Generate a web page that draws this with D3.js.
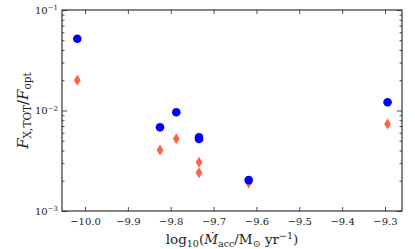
<!DOCTYPE html>
<html>
<head>
<meta charset="utf-8">
<script src="https://cdn.jsdelivr.net/npm/d3@7"></script>
<style>
  body { margin: 0; background: #fff; }
  svg text { font-family: "DejaVu Serif", "Liberation Serif", serif; fill: #222; }
</style>
</head>
<body>
<svg id="chart" width="415" height="249"></svg>
<script>
"use strict";

// log10 Mdot_acc for each source
var logMacc   = [-10.018, -9.825, -9.787, -9.734, -9.734, -9.618, -9.294];
// F_X,TOT / F_opt, blue circles
var ratioBlue = [0.0518, 0.0068, 0.0096, 0.0054, 0.0052, 0.00203, 0.0121];
// second estimate, red diamonds
var ratioRed  = [0.0200, 0.00405, 0.00524, 0.00305, 0.0024, 0.0019, 0.00734];

var xTicks = [-10.0, -9.9, -9.8, -9.7, -9.6, -9.5, -9.4, -9.3];
var yTicks = [1e-3, 1e-2, 1e-1];
var yExp   = {"0.001": "−3", "0.01": "−2", "0.1": "−1"};

var margin = {top: 10, right: 13, bottom: 38, left: 62};
var width = 415 - margin.left - margin.right,
    height = 249 - margin.top - margin.bottom;

var svg = d3.select("#chart");
var g = svg.append("g").attr("transform", "translate(" + margin.left + "," + margin.top + ")");

var x = d3.scaleLinear().domain([-10.0537, -9.2603]).range([0, width]);
var y = d3.scaleLog().domain([1e-3, 1e-1]).range([height, 0]);

// minor log ticks
var minor = [];
[1e-3, 1e-2].forEach(function(b) {
  for (var k = 2; k <= 9; k++) minor.push(b * k);
});

function styleAxis(sel) {
  sel.select(".domain").remove();
  sel.selectAll("line").attr("stroke", "#222").attr("stroke-width", 0.8);
}

// bottom
g.append("g").attr("transform", "translate(0," + height + ")")
  .call(d3.axisBottom(x).tickValues(xTicks).tickSize(-4).tickPadding(7)
    .tickFormat(function(d) { return d3.format(".1f")(d).replace("-", "−"); }))
  .call(styleAxis)
  .selectAll("text").style("font-size", "10px");
// top
g.append("g")
  .call(d3.axisTop(x).tickValues(xTicks).tickSize(-4).tickFormat(""))
  .call(styleAxis);

// left major
var yl = g.append("g")
  .call(d3.axisLeft(y).tickValues(yTicks).tickSize(-5).tickPadding(6).tickFormat(""))
  .call(styleAxis);
yl.selectAll(".tick").append("text")
  .attr("x", -4).attr("dy", "0.32em").attr("text-anchor", "end")
  .style("font-size", "10px")
  .each(function(d) {
    var t = d3.select(this);
    t.append("tspan").text("10");
    t.append("tspan").attr("dy", "-0.5em").style("font-size", "7px").text(yExp[String(d)]);
  });
g.append("g").call(d3.axisLeft(y).tickValues(minor).tickSize(-2.5).tickFormat("")).call(styleAxis);
// right
g.append("g").attr("transform", "translate(" + width + ",0)")
  .call(d3.axisRight(y).tickValues(yTicks).tickSize(-5).tickFormat("")).call(styleAxis);
g.append("g").attr("transform", "translate(" + width + ",0)")
  .call(d3.axisRight(y).tickValues(minor).tickSize(-2.5).tickFormat("")).call(styleAxis);

// frame
g.append("rect").attr("width", width).attr("height", height)
  .attr("fill", "none").attr("stroke", "#222").attr("stroke-width", 1.1);

// red diamonds
var diamond = "M0,-5.5L3.4,0L0,5.5L-3.4,0Z";
g.selectAll(".red").data(ratioRed).enter().append("path")
  .attr("class", "red")
  .attr("transform", function(d, i) { return "translate(" + x(logMacc[i]) + "," + y(d) + ")"; })
  .attr("d", diamond)
  .attr("fill", "#ff6347");

// blue circles
g.selectAll(".blue").data(ratioBlue).enter().append("circle")
  .attr("class", "blue")
  .attr("cx", function(d, i) { return x(logMacc[i]); })
  .attr("cy", function(d) { return y(d); })
  .attr("r", 4.3)
  .attr("fill", "#0000ff");

// x label
var xl = svg.append("text")
  .attr("x", margin.left + width / 2).attr("y", 244)
  .attr("text-anchor", "middle").style("font-size", "13.5px");
xl.append("tspan").text("log");
xl.append("tspan").attr("dy", "3").style("font-size", "9.5px").text("10");
xl.append("tspan").attr("dy", "-3").text("(");
xl.append("tspan").style("font-style", "italic").text("Ṁ");
xl.append("tspan").attr("dy", "3").style("font-size", "9.5px").text("acc");
xl.append("tspan").attr("dy", "-3").text("/M");
xl.append("tspan").attr("dy", "3").style("font-size", "9.5px").text("⊙");
xl.append("tspan").attr("dy", "-3").text(" yr");
xl.append("tspan").attr("dy", "-5").style("font-size", "9.5px").text("−1");
xl.append("tspan").attr("dy", "5").text(")");

// y label
var ylab = svg.append("text")
  .attr("transform", "translate(28," + (margin.top + height / 2) + ") rotate(-90)")
  .attr("text-anchor", "middle").style("font-size", "15px");
ylab.append("tspan").style("font-style", "italic").text("F");
ylab.append("tspan").attr("dy", "3").style("font-size", "10.5px").text("X,TOT");
ylab.append("tspan").attr("dy", "-3").text("/");
ylab.append("tspan").style("font-style", "italic").text("F");
ylab.append("tspan").attr("dy", "3").style("font-size", "10.5px").text("opt");
</script>
</body>
</html>
